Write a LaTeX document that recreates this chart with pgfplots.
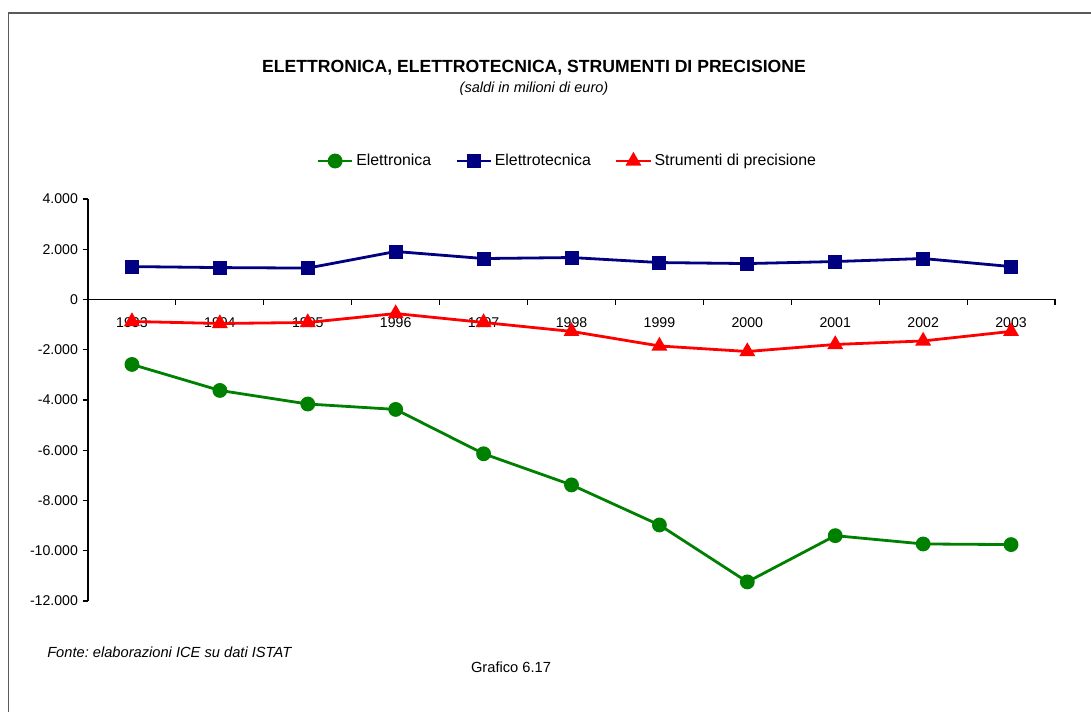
\documentclass[border=0pt]{standalone}
\usepackage{fontspec}
\setmainfont{Liberation Sans}
\usepackage{pgfplots}
\pgfplotsset{compat=1.18}
\frenchspacing
\definecolor{cgreen}{RGB}{0,128,0}
\definecolor{cnavy}{RGB}{0,0,128}
\definecolor{cred}{RGB}{255,0,0}
\definecolor{cframe}{RGB}{90,90,90}
\begin{document}
\begin{tikzpicture}
\useasboundingbox (0,0) rectangle (818.25pt,534pt);
\draw[cframe, line width=1.1pt] (6.4pt,-2pt) -- (6.4pt,524.2pt) -- (820pt,524.2pt);
\node[font=\bfseries\fontsize{13.2}{15}\selectfont] at (400.5pt,483pt) {ELETTRONICA, ELETTROTECNICA, STRUMENTI DI PRECISIONE};
\node[font=\itshape\fontsize{10.9}{12}\selectfont] at (400.5pt,467.5pt) {(saldi in milioni di euro)};
\node[font=\itshape\fontsize{11}{13}\selectfont, anchor=west, inner sep=0pt] at (35.25pt,45pt) {Fonte:\ elaborazioni ICE su dati ISTAT};
\node[font=\fontsize{11}{13}\selectfont] at (383.25pt,33.75pt) {Grafico 6.17};
\begin{axis}[
  at={(66pt,83.25pt)}, anchor=south west, scale only axis,
  width=725.25pt, height=301.5pt,
  xmin=0.5, xmax=11.5, ymin=-12000, ymax=4000,
  axis x line=middle, axis y line=left,
  axis line style={-, black, line width=0.8pt},
  scaled y ticks=false,
  xtick={1,...,11},
  xticklabels={1993,1994,1995,1996,1997,1998,1999,2000,2001,2002,2003},
  major x tick style={draw=none},
  minor xtick={0.5,1.5,...,11.5},
  minor x tick style={black, line width=0.8pt},
  minor tick length=4pt,
  xtick align=outside,
  ytick={-12000,-10000,-8000,-6000,-4000,-2000,0,2000,4000},
  yticklabels={-12.000,-10.000,-8.000,-6.000,-4.000,-2.000,0,2.000,4.000},
  ytick align=outside,
  major tick length=4pt,
  major y tick style={black, line width=0.8pt},
  ticklabel style={font=\fontsize{10.6}{12}\selectfont},
  xticklabel style={yshift=-5.8pt},
  clip=false,
  legend style={at={(0.496,1.0945)}, anchor=center, draw=none, fill=none,
    legend columns=3, font=\fontsize{11.9}{13}\selectfont,
    /tikz/every even column/.append style={column sep=16pt}},
  legend image code/.code={\draw[mark repeat=2,mark phase=2] plot coordinates {(0cm,0cm) (0.45cm,0cm) (0.9cm,0cm)};},
]
\addplot[cgreen, line width=2.1pt, mark=*, mark size=4.5pt, mark options={solid}] coordinates {
(1,-2585) (2,-3620) (3,-4160) (4,-4375) (5,-6140) (6,-7380) (7,-8975) (8,-11240) (9,-9400) (10,-9730) (11,-9755)};
\addlegendentry{Elettronica}
\addplot[cnavy, line width=2.1pt, mark=square*, mark size=4.2pt] coordinates {
(1,1310) (2,1270) (3,1250) (4,1910) (5,1630) (6,1670) (7,1470) (8,1430) (9,1510) (10,1630) (11,1310)};
\addlegendentry{Elettrotecnica}
\addplot[cred, line width=2.1pt, mark=triangle*, mark size=4.8pt] coordinates {
(1,-875) (2,-955) (3,-915) (4,-560) (5,-915) (6,-1270) (7,-1850) (8,-2070) (9,-1790) (10,-1650) (11,-1270)};
\addlegendentry{Strumenti di precisione}
\end{axis}
\end{tikzpicture}
\end{document}
